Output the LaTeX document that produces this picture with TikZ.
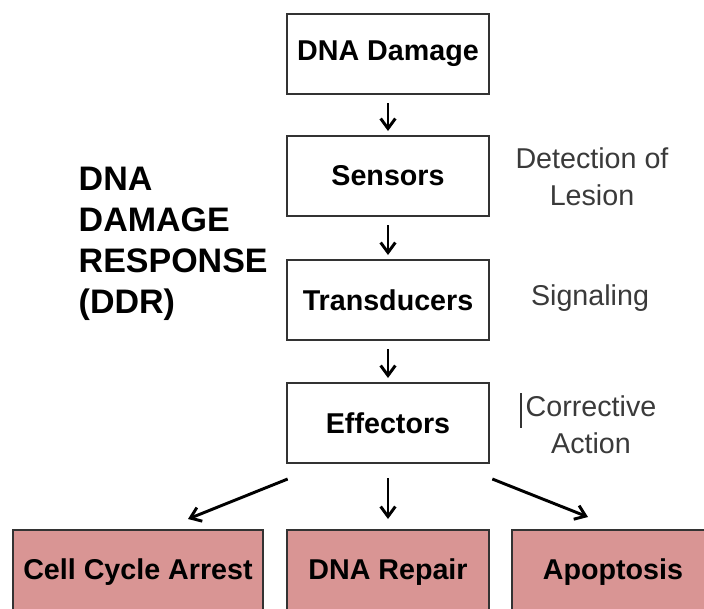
\documentclass[tikz,border=0pt]{standalone}
\usepackage{fontspec}
\setmainfont{Liberation Sans}
\usetikzlibrary{arrows.meta}
\usetikzlibrary{calc}
\definecolor{pinkred}{HTML}{D99594}
\definecolor{notegray}{HTML}{3A3A3A}
\tikzstyle{stagebox}=[rectangle,draw=black!80,line width=1.5pt,fill=white,minimum width=152pt,minimum height=60pt,inner sep=0pt,font=\fontsize{21.5}{24}\selectfont\bfseries]
\tikzstyle{outbox}=[stagebox,fill=pinkred,minimum height=63pt]
\tikzstyle{note} = [font=\fontsize{21.5}{28}\selectfont,text=notegray,align=center]
\tikzstyle{arr} = [draw,line width=2.2pt,-{Straight Barb[length=7.5pt,width=11pt,line width=2.2pt]}]

\begin{document}
\begin{tikzpicture}[x=0.75pt,y=-0.75pt]

  \clip (0,0) rectangle (704,608);
  \fill[white] (0,0) rectangle (704,608);

  % main chain
  \foreach \name/\y/\label in {dmg/54/DNA Damage, sens/176/Sensors, trans/300/Transducers, eff/423/Effectors}
       \node[stagebox] (\name) at (388, \y) {\label};

  \foreach \source/ \dest in {dmg/sens, sens/trans, trans/eff}
       \draw[arr, shorten <=6pt, shorten >=3pt] (\source) -- (\dest);

  % outcomes
  \node[outbox, minimum width=187.5pt] (arrest) at (138, 572) {Cell Cycle Arrest};
  \node[outbox] (repair) at (388, 572) {DNA Repair};
  \node[outbox] (apop) at (613, 572) {Apoptosis};

  \draw[arr] ($(eff.south west)+(2,15)$) -- ($(arrest.north)+(50,-10)$);
  \draw[arr, shorten <=10.5pt, shorten >=7.5pt] (eff) -- (repair);
  \draw[arr] ($(eff.south east)+(2,15)$) -- ($(apop.north)+(-25,-12)$);

  % side notes
  \node[note] (detect) at (592, 177) {Detection of\\Lesion};
  \node[note] (signal) at (590, 298) {Signaling};
  \node[note] (correct) at (591, 425) {Corrective\\Action};
  \draw[line width=1.3pt, black!80] (521, 393) -- (521, 428);

  \node[font=\fontsize{25.5}{30.75}\selectfont\bfseries, align=left, anchor=north west] (ddr) at (74, 162) {DNA\\DAMAGE\\RESPONSE\\(DDR)};

\end{tikzpicture}
\end{document}
